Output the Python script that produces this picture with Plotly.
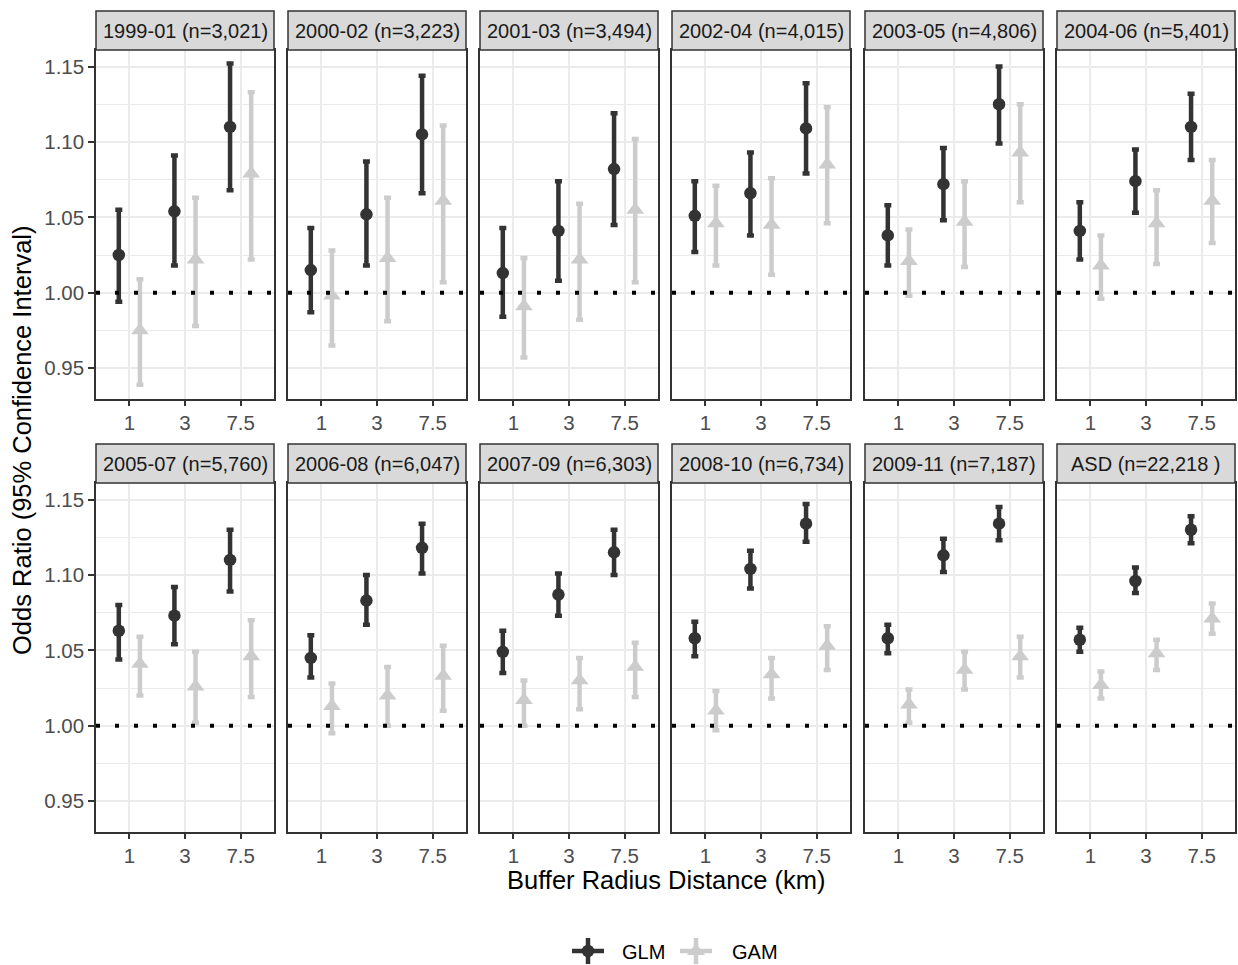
import plotly.graph_objects as go

W, H = 1238, 965

panels = ["1999-01 (n=3,021)", "2000-02 (n=3,223)", "2001-03 (n=3,494)",
          "2002-04 (n=4,015)", "2003-05 (n=4,806)", "2004-06 (n=5,401)",
          "2005-07 (n=5,760)", "2006-08 (n=6,047)", "2007-09 (n=6,303)",
          "2008-10 (n=6,734)", "2009-11 (n=7,187)", "ASD (n=22,218 )"]
radius = ["1", "3", "7.5"]

glm_or = [[1.025, 1.054, 1.110], [1.015, 1.052, 1.105], [1.013, 1.041, 1.082],
          [1.051, 1.066, 1.109], [1.038, 1.072, 1.125], [1.041, 1.074, 1.110],
          [1.063, 1.073, 1.110], [1.045, 1.083, 1.118], [1.049, 1.087, 1.115],
          [1.058, 1.104, 1.134], [1.058, 1.113, 1.134], [1.057, 1.096, 1.130]]
glm_lo = [[0.994, 1.018, 1.068], [0.987, 1.018, 1.066], [0.984, 1.008, 1.045],
          [1.027, 1.038, 1.079], [1.018, 1.048, 1.099], [1.022, 1.053, 1.088],
          [1.044, 1.054, 1.089], [1.032, 1.067, 1.101], [1.035, 1.073, 1.100],
          [1.046, 1.091, 1.122], [1.048, 1.102, 1.123], [1.049, 1.088, 1.121]]
glm_hi = [[1.055, 1.091, 1.152], [1.043, 1.087, 1.144], [1.043, 1.074, 1.119],
          [1.074, 1.093, 1.139], [1.058, 1.096, 1.150], [1.060, 1.095, 1.132],
          [1.080, 1.092, 1.130], [1.060, 1.100, 1.134], [1.063, 1.101, 1.130],
          [1.069, 1.116, 1.147], [1.067, 1.124, 1.145], [1.065, 1.105, 1.139]]

gam_or = [[0.975, 1.022, 1.079], [0.998, 1.023, 1.061], [0.991, 1.022, 1.055],
          [1.046, 1.045, 1.085], [1.021, 1.047, 1.093], [1.018, 1.046, 1.061],
          [1.041, 1.026, 1.046], [1.013, 1.020, 1.033], [1.017, 1.030, 1.039],
          [1.010, 1.034, 1.053], [1.014, 1.037, 1.046], [1.027, 1.048, 1.071]]
gam_lo = [[0.939, 0.978, 1.022], [0.965, 0.981, 1.007], [0.957, 0.982, 1.007],
          [1.018, 1.012, 1.046], [0.998, 1.017, 1.060], [0.996, 1.019, 1.033],
          [1.020, 1.002, 1.019], [0.995, 1.000, 1.010], [1.000, 1.011, 1.019],
          [0.997, 1.018, 1.037], [1.002, 1.024, 1.032], [1.018, 1.037, 1.061]]
gam_hi = [[1.009, 1.063, 1.133], [1.028, 1.063, 1.111], [1.023, 1.059, 1.102],
          [1.071, 1.076, 1.123], [1.042, 1.074, 1.125], [1.038, 1.068, 1.088],
          [1.059, 1.049, 1.070], [1.028, 1.039, 1.053], [1.030, 1.045, 1.055],
          [1.023, 1.045, 1.066], [1.024, 1.049, 1.059], [1.036, 1.057, 1.081]]

y_ticks = [0.95, 1.00, 1.05, 1.10, 1.15]
y_minor = [0.975, 1.025, 1.075, 1.125]
models = ["GLM", "GAM"]

FONT = "Liberation Sans, Arial, sans-serif"
DARK = "#333333"
LIGHT = "#CCCCCC"
GRID = "#EBEBEB"
DODGE = 0.19
TICK_FS = 20.5
STRIP_FS = 20
TITLE_FS = 25.5
TRI = 15.5
CIRC = 12.5


def fx(p):
    return p / W


def fy(p):
    return 1 - p / H


col_left = [96, 288, 480, 672, 865, 1057]
PW = 178
rows = [(50, 399, 11), (483, 832, 444)]  # plot top, plot bottom, strip top

fig = go.Figure()
layout = dict(width=W, height=H, margin=dict(l=0, r=0, t=0, b=0),
              paper_bgcolor="white", plot_bgcolor="white", showlegend=False,
              font=dict(family=FONT), shapes=[], annotations=[])

pos = list(range(1, len(radius) + 1))

for k, title in enumerate(panels):
    r, c = divmod(k, 6)
    top, bot, stop = rows[r]
    L = col_left[c]
    sfx = "" if k == 0 else str(k + 1)
    xn, yn = "x" + sfx, "y" + sfx
    layout["xaxis" + sfx] = dict(
        domain=[fx(L), fx(L + PW)], range=[0.4, 3.6], anchor=yn,
        tickvals=pos, ticktext=radius, showgrid=True, gridcolor=GRID, gridwidth=2,
        zeroline=False, showline=True, mirror=True, linecolor=DARK, linewidth=1.5,
        ticks="outside", ticklen=5, tickwidth=1.5, tickcolor=DARK,
        tickfont=dict(size=TICK_FS, color="#4D4D4D", family=FONT), fixedrange=True)
    layout["yaxis" + sfx] = dict(
        domain=[fy(bot), fy(top)], range=[0.9295, 1.161], anchor=xn,
        tickvals=y_ticks, ticktext=["%.2f" % v for v in y_ticks],
        showticklabels=(c == 0), ticks="outside" if c == 0 else "",
        ticklen=6, tickwidth=1.5, tickcolor=DARK,
        showgrid=True, gridcolor=GRID, gridwidth=2,
        minor=dict(tickvals=y_minor, showgrid=True, gridcolor=GRID, gridwidth=1, ticks=""),
        zeroline=False, showline=True, mirror=True, linecolor=DARK, linewidth=1.5,
        tickfont=dict(size=TICK_FS, color="#4D4D4D", family=FONT), fixedrange=True)

    # strip
    layout["shapes"].append(dict(type="rect", xref="paper", yref="paper",
                                 x0=fx(L), x1=fx(L + PW), y0=fy(top), y1=fy(stop),
                                 fillcolor="#D9D9D9", line=dict(color=DARK, width=1.5)))
    layout["annotations"].append(dict(xref="paper", yref="paper", x=fx(L + PW / 2),
                                      y=fy((top + stop) / 2), text=title, showarrow=False,
                                      xanchor="center", yanchor="middle",
                                      font=dict(size=STRIP_FS, color="#1A1A1A", family=FONT)))

    for m, (vals, lo, hi, col, sym, size, off) in enumerate([
        (glm_or[k], glm_lo[k], glm_hi[k], DARK, "circle", CIRC, -DODGE),
        (gam_or[k], gam_lo[k], gam_hi[k], LIGHT, "triangle-up", TRI, DODGE),
    ]):
        fig.add_trace(go.Scatter(
            x=[p + off for p in pos], y=vals, mode="markers", xaxis=xn, yaxis=yn,
            name=models[m],
            marker=dict(color=col, symbol=sym, size=size, line=dict(width=0)),
            error_y=dict(type="data", symmetric=False,
                         array=[h - v for h, v in zip(hi, vals)],
                         arrayminus=[v - l for v, l in zip(vals, lo)],
                         color=col, thickness=4.5, width=3.5),
            hoverinfo="skip"))

    fig.add_trace(go.Scatter(x=[0.4, 3.6], y=[1, 1], mode="lines", xaxis=xn, yaxis=yn,
                             line=dict(color="black", width=4, dash="4px,15px"),
                             hoverinfo="skip"))

# axis titles
layout["annotations"].append(dict(xref="paper", yref="paper", x=fx(22), y=fy(441),
                                  text="Odds Ratio (95% Confidence Interval)", textangle=-90,
                                  showarrow=False, xanchor="center", yanchor="middle",
                                  font=dict(size=TITLE_FS, color="black", family=FONT)))
layout["annotations"].append(dict(xref="paper", yref="paper", x=fx(666), y=fy(880),
                                  text="Buffer Radius Distance (km)",
                                  showarrow=False, xanchor="center", yanchor="middle",
                                  font=dict(size=TITLE_FS, color="black", family=FONT)))

# manual legend on a hidden axis (pixel coordinates)
LH = 45
layout["xaxis13"] = dict(domain=[0, 1], range=[0, W], visible=False, anchor="y13", fixedrange=True)
layout["yaxis13"] = dict(domain=[0, LH / H], range=[0, LH], visible=False, anchor="x13", fixedrange=True)
leg_y = H - 951
for name, cx, col, sym, size, tx in [("GLM", 588, DARK, "circle", CIRC, 620),
                                      ("GAM", 696, LIGHT, "triangle-up", TRI, 730)]:
    layout["shapes"].append(dict(type="line", xref="x13", yref="y13", x0=cx - 16, x1=cx + 16,
                                 y0=leg_y, y1=leg_y, line=dict(color=col, width=4.5)))
    layout["shapes"].append(dict(type="line", xref="x13", yref="y13", x0=cx, x1=cx,
                                 y0=leg_y - 13, y1=leg_y + 13, line=dict(color=col, width=4.5)))
    fig.add_trace(go.Scatter(x=[cx], y=[leg_y], mode="markers", xaxis="x13", yaxis="y13",
                             marker=dict(color=col, symbol=sym, size=size, line=dict(width=0)),
                             hoverinfo="skip"))
    layout["annotations"].append(dict(xref="paper", yref="paper", x=fx(tx), y=fy(952),
                                      text=name, showarrow=False, xanchor="left", yanchor="middle",
                                      font=dict(size=20, color="black", family=FONT)))

fig.update_layout(**layout)
fig.write_html("out.html")
